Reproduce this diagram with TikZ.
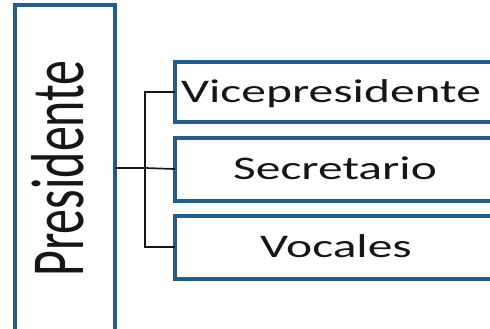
\documentclass[tikz,border=0pt]{standalone}
\usepackage{fontspec}
\setmainfont{Carlito}
\definecolor{boxblue}{RGB}{36,92,140}
\definecolor{inkblack}{RGB}{22,22,26}
\tikzset{
  x=1pt, y=-1pt,
  orgbox/.style={draw=boxblue, line width=3.8pt, fill=white},
  link/.style={draw=inkblack, line width=1.7pt},
  label/.style={inner sep=0pt, text=inkblack, anchor=base},
}
\begin{document}
\begin{tikzpicture}
  \useasboundingbox[fill=white] (0,0) rectangle (490,329);
  \clip (0,0) rectangle (490,329);

  % head of the chart
  \path[orgbox] (15,5) rectangle (115,333);
  \node[label, rotate=90] (pres) at (83,168.5)
    {\fontsize{50}{50}\selectfont\scalebox{1}[1.5]{Presidente}};
  \coordinate (presR) at (115,168);

  % members
  \path[orgbox] (175,62) rectangle (497,122);
  \path[orgbox] (175,138) rectangle (497,201);
  \path[orgbox] (175,216) rectangle (497,279);
  \coordinate (vice) at (175,92);
  \coordinate (secr) at (175,169);
  \coordinate (voca) at (175,247);
  \coordinate (trunk) at (145,168);

  \node[label] (tvice) at (331,102.5)
    {\fontsize{33}{33}\selectfont\scalebox{1.5}[1]{Vicepresidente}};
  \node[label] (tsecr) at (335,179)
    {\fontsize{33}{33}\selectfont\scalebox{1.5}[1]{Secretario}};
  \node[label] (tvoca) at (336,257.5)
    {\fontsize{33}{33}\selectfont\scalebox{1.5}[1]{Vocales}};

  % connectors
  \draw[link] (presR) -- (trunk);
  \draw[link] (vice) -| (trunk) |- (voca);
  \draw[link] (trunk) -- (secr);
\end{tikzpicture}
\end{document}
